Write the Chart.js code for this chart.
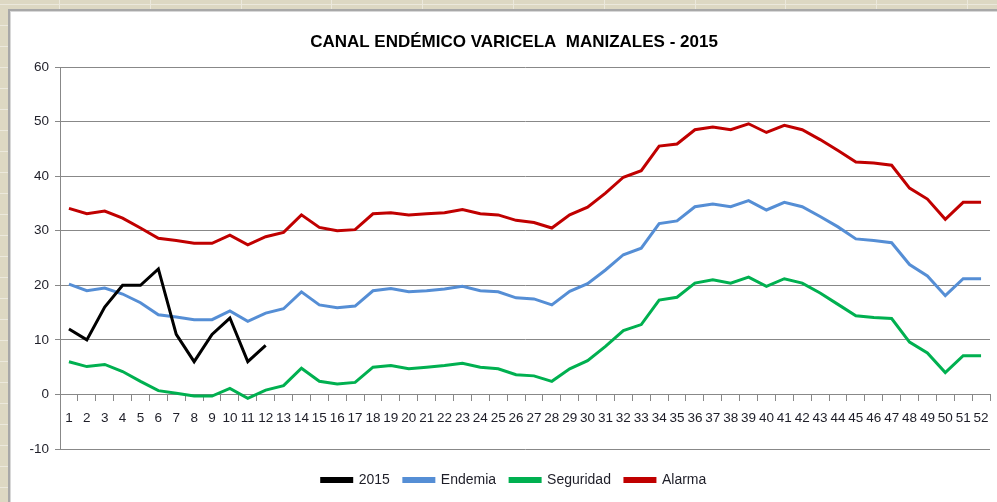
<!DOCTYPE html>
<html>
<head>
<meta charset="utf-8">
<script src="https://cdn.jsdelivr.net/npm/chart.js@4/dist/chart.umd.min.js"></script>
<style>
  html, body { margin: 0; padding: 0; }
  body {
    width: 997px; height: 502px; overflow: hidden; position: relative;
    background-color: #ddd8c3;
    background-image:
      repeating-linear-gradient(90deg, transparent 0 59px, #ebe8dc 59px 60px, transparent 60px 90.8px),
      repeating-linear-gradient(180deg, transparent 0 4px, #ebe8dc 4px 5px, transparent 5px 21px);
  }
  #frame {
    position: absolute; left: 8px; top: 9px; width: 1010px; height: 500px;
    background: #ffffff; border-left: 2px solid #a8a8a8; border-top: 2px solid #a8a8a8;
    box-shadow: inset 1px 1px 0 #d8d8d8;
  }
  #chartCanal { position: absolute; left: 0; top: 0; }
</style>
</head>
<body>
<div id="frame"></div>
<canvas id="chartCanal" width="1028" height="502"></canvas>
<script>
const SEMANAS = ['1','2','3','4','5','6','7','8','9','10','11','12','13','14','15','16','17','18','19','20',
  '21','22','23','24','25','26','27','28','29','30','31','32','33','34','35','36','37','38','39','40',
  '41','42','43','44','45','46','47','48','49','50','51','52'];

const CASOS_2015 = [12, 10, 16, 20, 20, 23, 11, 6, 11, 14, 6, 9];

const ENDEMIA = [20.2, 19.0, 19.5, 18.4, 16.8, 14.6, 14.2, 13.7, 13.7, 15.3,
  13.4, 14.9, 15.7, 18.8, 16.4, 15.9, 16.2, 19.0, 19.4, 18.8,
  19.0, 19.3, 19.8, 19.0, 18.8, 17.7, 17.5, 16.4, 18.9, 20.3,
  22.8, 25.6, 26.8, 31.3, 31.8, 34.4, 34.9, 34.4, 35.5, 33.8,
  35.2, 34.4, 32.6, 30.7, 28.5, 28.2, 27.8, 23.8, 21.7, 18.1, 21.2, 21.2];

const SEGURIDAD = [6.0, 5.1, 5.5, 4.2, 2.4, 0.7, 0.2, -0.3, -0.3, 1.1,
  -0.7, 0.8, 1.6, 4.8, 2.4, 1.9, 2.2, 5.0, 5.3, 4.7,
  5.0, 5.3, 5.7, 5.0, 4.7, 3.6, 3.4, 2.4, 4.7, 6.2,
  8.8, 11.7, 12.8, 17.3, 17.8, 20.4, 21.0, 20.4, 21.5, 19.8,
  21.2, 20.4, 18.6, 16.5, 14.4, 14.1, 13.9, 9.6, 7.6, 4.0, 7.1, 7.1];

const ALARMA = [34.1, 33.1, 33.6, 32.3, 30.5, 28.6, 28.2, 27.7, 27.7, 29.2,
  27.4, 28.9, 29.7, 32.9, 30.6, 30.0, 30.2, 33.1, 33.3, 32.9,
  33.1, 33.3, 33.9, 33.1, 32.9, 31.9, 31.5, 30.5, 32.9, 34.3,
  36.9, 39.8, 41.0, 45.5, 45.9, 48.5, 49.0, 48.5, 49.6, 48.0,
  49.3, 48.5, 46.7, 44.7, 42.6, 42.4, 42.0, 37.8, 35.8, 32.1, 35.2, 35.2];

const FONT = '"Liberation Sans", Arial, sans-serif';
const GRID = '#888888';
const TXT = '#1e1e28';

// la serie 2015 solo llega hasta la semana 12, el resto queda vacio
const serie2015 = SEMANAS.map((s, i) => i < CASOS_2015.length ? CASOS_2015[i] : null);

const linea = (label, data, color) => ({
  label: label, data: data, borderColor: color, backgroundColor: color,
  borderWidth: 3, pointRadius: 0, tension: 0, spanGaps: false
});

new Chart(document.getElementById('chartCanal'), {
  type: 'line',
  data: {
    labels: SEMANAS,
    datasets: [
      linea('2015', serie2015, '#000000'),
      linea('Endemia', ENDEMIA, '#558ed5'),
      linea('Seguridad', SEGURIDAD, '#00b050'),
      linea('Alarma', ALARMA, '#c00000')
    ]
  },
  options: {
    responsive: false, animation: false, devicePixelRatio: 1,
    layout: { padding: { left: 0, right: 0, top: 22, bottom: 5 } },
    plugins: {
      title: {
        display: true, text: 'CANAL ENDÉMICO VARICELA  MANIZALES - 2015', color: '#000',
        font: { family: FONT, size: 17, weight: 'bold' }, padding: { top: 10, bottom: 14.6 }
      },
      legend: {
        position: 'bottom',
        title: { display: true, text: '', font: { size: 1 }, padding: { top: 8.8, bottom: 0 } },
        labels: { boxWidth: 30, boxHeight: 3, padding: 14, color: TXT, font: { family: FONT, size: 14 } }
      },
      tooltip: { enabled: false }
    },
    scales: {
      x: {
        position: { y: 0 }, offset: true,
        grid: { offset: true, drawOnChartArea: false, drawTicks: true, tickLength: 6, color: GRID },
        border: { color: GRID },
        ticks: { autoSkip: false, maxRotation: 0, minRotation: 0, padding: 10, color: TXT, font: { family: FONT, size: 13.5 } }
      },
      y: {
        min: -10, max: 60,
        ticks: { stepSize: 10, padding: 6, color: TXT, font: { family: FONT, size: 13.5 } },
        grid: { color: GRID, tickLength: 5 },
        border: { color: GRID },
        afterFit: (scale) => { scale.width = 60; }
      },
      // eje vacio a la derecha, solo reserva espacio para que titulo y leyenda queden centrados como en el original
      margenDer: {
        type: 'linear', position: 'right', min: -10, max: 60,
        ticks: { display: false }, grid: { display: false }, border: { display: false },
        afterFit: (scale) => { scale.width = 38; }
      }
    }
  }
});
</script>
</body>
</html>
